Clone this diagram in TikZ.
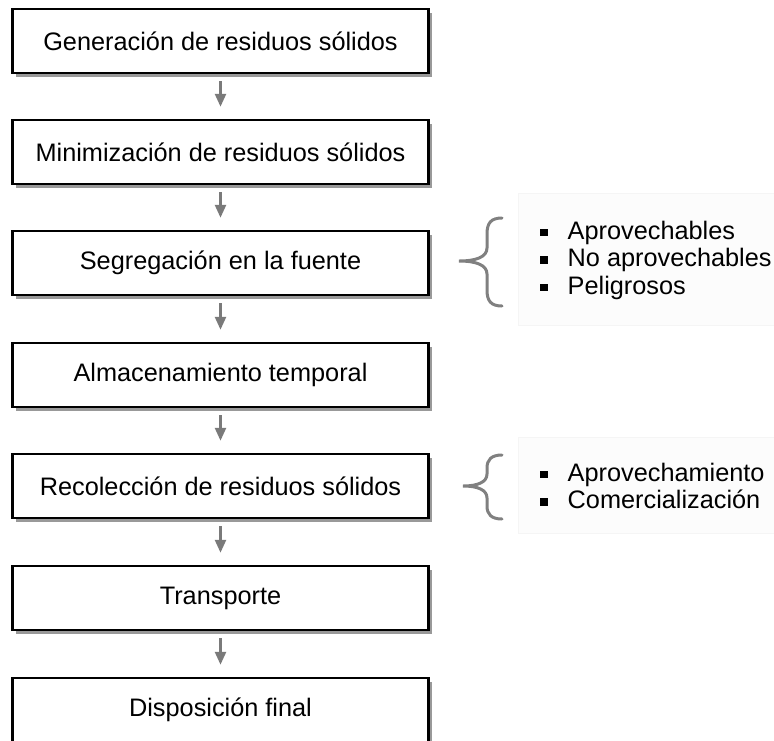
\documentclass[tikz,border=0pt]{standalone}
\usepackage{fontspec}
\setmainfont{Liberation Sans}
\usetikzlibrary{arrows.meta,shadows}

\newcommand{\vineta}{\rule[3pt]{7.5pt}{7.5pt}\hspace{20pt}}

\begin{document}
\begin{tikzpicture}[
    x=1pt, y=-1pt,
    etapa/.style={rectangle,draw=black,line width=2.5pt,fill=white,
      minimum width=416pt,minimum height=64pt,
      drop shadow={shadow xshift=3.5pt,shadow yshift=-3.5pt,fill=black!40,opacity=1}},
    flecha/.style={draw=black!52,line width=2.6pt,-{Triangle[length=13pt,width=11pt]},
      shorten <=7pt,shorten >=12pt},
    llave/.style={draw=black!50,line width=3pt,line cap=round},
    fondo/.style={rectangle,draw=black!4,fill=black!1,line width=0.6pt,
      anchor=north west,inner sep=0pt},
    lista/.style={anchor=west,align=left,inner sep=0pt},
    every node/.style={font=\fontsize{25.3}{27.5}\selectfont}
]
\useasboundingbox (0,0) rectangle (774,740);

% Etapas (columna izquierda)
\node[etapa] (e1) at (220.5,41) {Generación de residuos sólidos};
\node[etapa] (e2) at (220.5,152) {Minimización de residuos sólidos};
\node[etapa] (e3) at (220.5,263) {Segregación en la fuente};
\node[etapa] (e4) at (220.5,375) {Almacenamiento temporal};
\node[etapa] (e5) at (220.5,486) {Recolección de residuos sólidos};
\node[etapa] (e6) at (220.5,598) {Transporte};
\node[etapa] (e7) at (220.5,710) {Disposición final};

% Flechas entre etapas
\draw[flecha] (e1) -- (e2);
\draw[flecha] (e2) -- (e3);
\draw[flecha] (e3) -- (e4);
\draw[flecha] (e4) -- (e5);
\draw[flecha] (e5) -- (e6);
\draw[flecha] (e6) -- (e7);

% Fondos de las listas
\node[fondo,minimum width=290pt,minimum height=132pt] (f1) at (518,193) {};
\node[fondo,minimum width=290pt,minimum height=96pt] (f2) at (518,437) {};

% Listas (derecha)
\node[lista] (l1) at (540,260) {\vineta Aprovechables\\ \vineta No aprovechables\\ \vineta Peligrosos};
\node[lista] (l2) at (540,486) {\vineta Aprovechamiento\\ \vineta Comercialización};

% Llaves
\draw[llave] (502,218) .. controls (491,218) and (487,223) .. (487,234) -- (487,248)
  .. controls (487,257) and (476,261) .. (459,261)
  .. controls (476,261) and (487,265) .. (487,274) -- (487,290)
  .. controls (487,301) and (491,306) .. (502,306);
\draw[llave] (502,455) .. controls (491,455) and (487,460) .. (487,468) -- (487,474)
  .. controls (487,482) and (478,486) .. (463,486)
  .. controls (478,486) and (487,490) .. (487,498) -- (487,506)
  .. controls (487,514) and (491,519) .. (502,519);

\end{tikzpicture}
\end{document}
